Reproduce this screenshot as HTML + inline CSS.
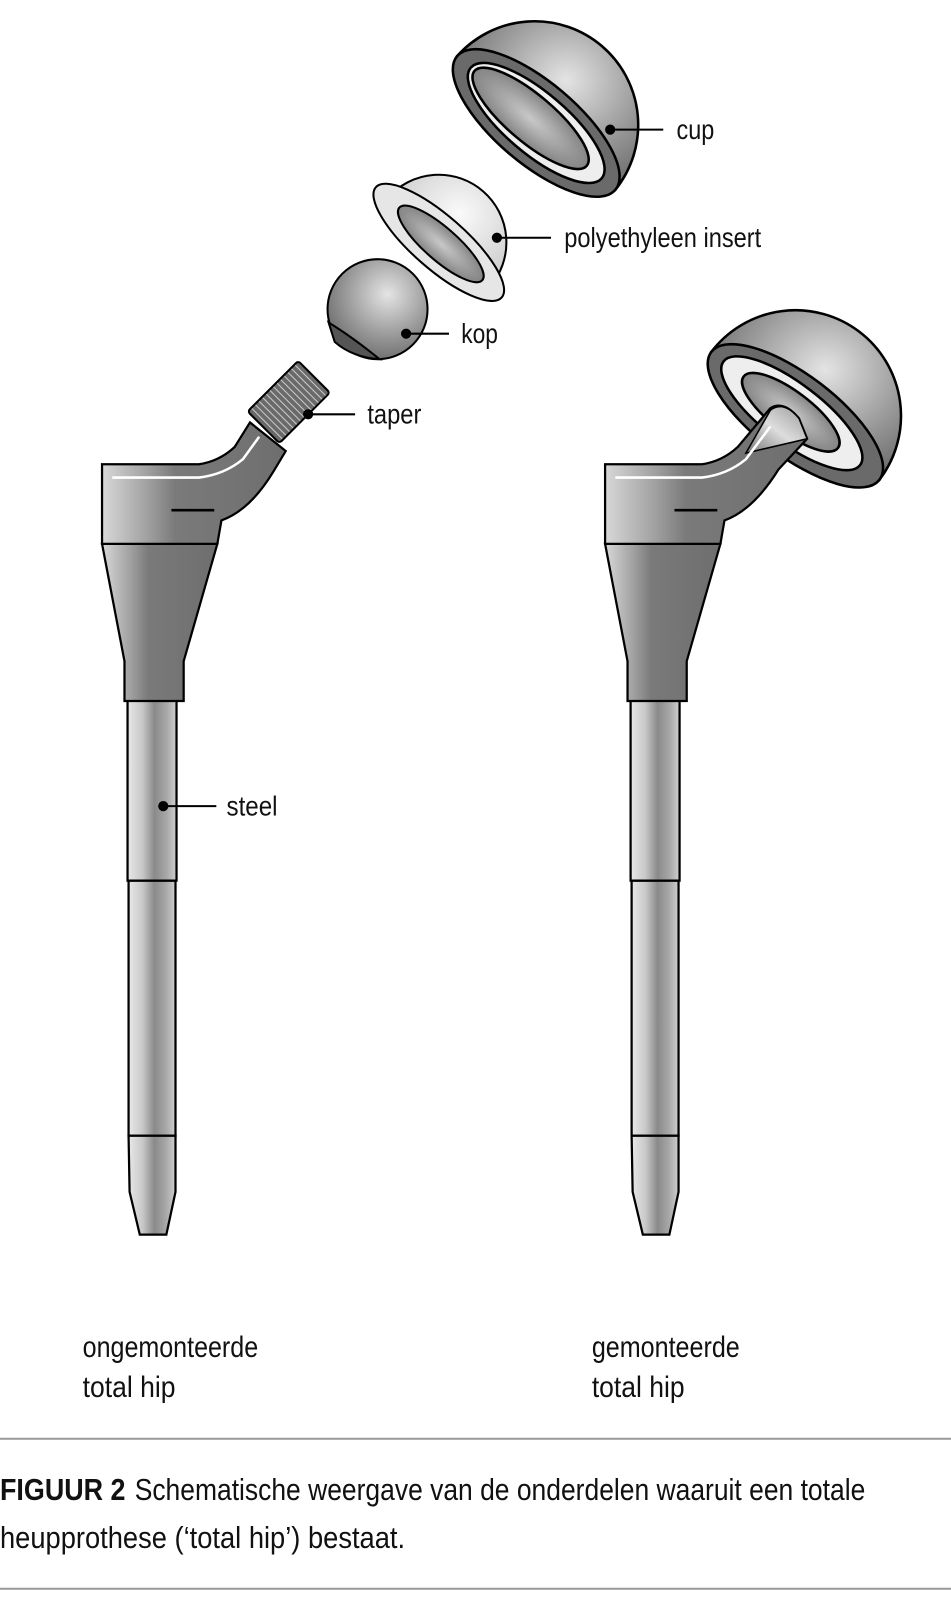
<!DOCTYPE html>
<html><head><meta charset="utf-8"><style>
html,body{margin:0;padding:0;background:#fff;}
svg{display:block;}
text{font-family:"Liberation Sans",sans-serif;fill:#111;}
</style></head><body>
<svg width="951" height="1600" viewBox="0 0 932 1568" xmlns="http://www.w3.org/2000/svg">
<defs>
<linearGradient id="met" x1="0" x2="1" y1="0" y2="0">
<stop offset="0" stop-color="#e8e8e8"/><stop offset="0.3" stop-color="#c8c8c8"/><stop offset="0.55" stop-color="#8a8a8a"/><stop offset="0.8" stop-color="#a8a8a8"/><stop offset="1" stop-color="#cfcfcf"/></linearGradient>
<linearGradient id="col" x1="0" x2="1" y1="0" y2="0">
<stop offset="0" stop-color="#d8d8d8"/><stop offset="0.25" stop-color="#a0a0a0"/><stop offset="0.4" stop-color="#7a7a7a"/><stop offset="1" stop-color="#6e6e6e"/></linearGradient>
<linearGradient id="neck" x1="0" x2="1" y1="1" y2="0">
<stop offset="0" stop-color="#777"/><stop offset="0.5" stop-color="#ddd"/><stop offset="1" stop-color="#999"/></linearGradient>
<radialGradient id="sph" cx="0.6" cy="0.35" r="0.7">
<stop offset="0" stop-color="#e4e4e4"/><stop offset="0.6" stop-color="#999"/><stop offset="1" stop-color="#6a6a6a"/></radialGradient>
<radialGradient id="sphL" cx="0.6" cy="0.35" r="0.7">
<stop offset="0" stop-color="#fafafa"/><stop offset="1" stop-color="#c8c8c8"/></radialGradient>
<radialGradient id="inner" cx="0.5" cy="0.5" r="0.6">
<stop offset="0" stop-color="#c8c8c8"/><stop offset="1" stop-color="#777"/></radialGradient>
</defs>

<!-- CUP -->
<g stroke="#000" stroke-width="2.5">
<path d="M448,55 A101.5,101.5 0 0 1 603,186 Z" fill="url(#sph)"/>
<ellipse cx="525.5" cy="120.5" rx="101.5" ry="40" transform="rotate(40.2 525.5 120.5)" fill="#6a6a6a"/>
<ellipse cx="525.5" cy="120.5" rx="84" ry="30" transform="rotate(40.2 525.5 120.5)" fill="#eee"/>
<ellipse cx="520" cy="116" rx="72" ry="23" transform="rotate(40.2 520 116)" fill="url(#inner)"/>
</g>
<!-- INSERT -->
<g stroke="#000" stroke-width="2">
<path d="M380,194 A66,66 0 0 1 480,281 Z" fill="url(#sphL)"/>
<ellipse cx="430" cy="237.5" rx="82" ry="26" transform="rotate(41.2 430 237.5)" fill="#e6e6e6"/>
<ellipse cx="432" cy="239" rx="54" ry="16" transform="rotate(41.2 432 239)" fill="url(#inner)"/>
</g>
<!-- KOP -->
<g stroke="#000" stroke-width="2">
<circle cx="370" cy="303" r="49" fill="url(#sph)"/>
<path d="M322,316 Q345,330 372,352 Q345,350 328,335 Z" fill="#555"/>
</g>

<!-- LEFT STEM -->
<g stroke="#000" stroke-width="2.2">
<path d="M126,863 L172,863 L172,1113 L126,1113 Z" fill="url(#met)"/>
<path d="M126,1113 L172,1113 L172,1168 L163,1210 L137,1210 L127,1168 Z" fill="url(#met)"/>
<path d="M125,680 L173,680 L173,863 L125,863 Z" fill="url(#met)"/>
<path d="M100,533 L213,533 L180,648 L180,687 L122,687 L122,648 Z" fill="url(#col)"/>
<path d="M100,455 L195,455 Q215,452 230,438 L245,414 L280,442 L268,462 Q245,500 217,510 L213,533 L100,533 Z" fill="url(#col)"/>
<path d="M110,468 L195,468 Q220,465 238,450 L254,428" fill="none" stroke="#fff" stroke-width="2.5"/>
<path d="M168,500 L210,500" stroke="#000" stroke-width="2.5"/>
</g>
<!-- taper -->
<g transform="translate(-9,9) rotate(45 292 385)" stroke="#000" stroke-width="2">
<rect x="270" y="350" width="44" height="70" rx="3" fill="#6a6a6a"/>
<g stroke="#ccc" stroke-width="1">
<line x1="271" y1="355" x2="313" y2="355"/><line x1="271" y1="360" x2="313" y2="360"/><line x1="271" y1="365" x2="313" y2="365"/><line x1="271" y1="370" x2="313" y2="370"/><line x1="271" y1="375" x2="313" y2="375"/><line x1="271" y1="380" x2="313" y2="380"/><line x1="271" y1="385" x2="313" y2="385"/><line x1="271" y1="390" x2="313" y2="390"/><line x1="271" y1="395" x2="313" y2="395"/><line x1="271" y1="400" x2="313" y2="400"/><line x1="271" y1="405" x2="313" y2="405"/><line x1="271" y1="410" x2="313" y2="410"/><line x1="271" y1="415" x2="313" y2="415"/>
</g>
</g>

<!-- RIGHT STEM -->
<g transform="translate(493,0)" stroke="#000" stroke-width="2.2">
<path d="M126,863 L172,863 L172,1113 L126,1113 Z" fill="url(#met)"/>
<path d="M126,1113 L172,1113 L172,1168 L163,1210 L137,1210 L127,1168 Z" fill="url(#met)"/>
<path d="M125,680 L173,680 L173,863 L125,863 Z" fill="url(#met)"/>
<path d="M100,533 L213,533 L180,648 L180,687 L122,687 L122,648 Z" fill="url(#col)"/>
</g>
<!-- right cup -->
<g stroke="#000" stroke-width="2.5">
<path d="M697,345 A103.5,103.5 0 0 1 862,470 Z" fill="url(#sph)"/>
<ellipse cx="779.5" cy="407.5" rx="103.5" ry="40" transform="rotate(37.2 779.5 407.5)" fill="#6a6a6a"/>
<ellipse cx="776" cy="405" rx="84" ry="29" transform="rotate(37.2 776 405)" fill="#eee"/>
<ellipse cx="775" cy="404" rx="58" ry="20" transform="rotate(37.2 775 404)" fill="url(#inner)"/>
</g>
<g transform="translate(493,0)" stroke="#000" stroke-width="2.2">
<path d="M100,455 L195,455 Q215,452 230,438 L262,400 Q275,392 290,410 L298,430 L270,460 Q245,500 217,510 L213,533 L100,533 Z" fill="url(#col)"/>
<path d="M238,444 L262,402 Q275,392 290,410 L298,430 Z" fill="url(#neck)" stroke-width="1.5"/>
<path d="M110,468 L195,468 Q220,465 238,450 L262,418" fill="none" stroke="#fff" stroke-width="2.5"/>
<path d="M168,500 L210,500" stroke="#000" stroke-width="2.5"/>
</g>

<!-- label leaders -->
<g stroke="#000" stroke-width="2">
<line x1="598" y1="127" x2="650" y2="127"/><circle cx="598" cy="127" r="4"/>
<line x1="487" y1="233" x2="540" y2="233"/><circle cx="487" cy="233" r="4"/>
<line x1="398" y1="327" x2="440" y2="327"/><circle cx="398" cy="327" r="4"/>
<line x1="302" y1="406" x2="348" y2="406"/><circle cx="302" cy="406" r="4"/>
<line x1="160" y1="790" x2="212" y2="790"/><circle cx="160" cy="790" r="4"/>
</g>
<g font-size="27">
<text x="663" y="136" textLength="37" lengthAdjust="spacingAndGlyphs">cup</text>
<text x="553" y="242" textLength="193" lengthAdjust="spacingAndGlyphs">polyethyleen insert</text>
<text x="452" y="336" textLength="36" lengthAdjust="spacingAndGlyphs">kop</text>
<text x="360" y="415" textLength="53" lengthAdjust="spacingAndGlyphs">taper</text>
<text x="222" y="799" textLength="50" lengthAdjust="spacingAndGlyphs">steel</text>
</g>
<g font-size="29">
<text x="81" y="1330" textLength="172" lengthAdjust="spacingAndGlyphs">ongemonteerde</text>
<text x="81" y="1369" textLength="91" lengthAdjust="spacingAndGlyphs">total hip</text>
<text x="580" y="1330" textLength="145" lengthAdjust="spacingAndGlyphs">gemonteerde</text>
<text x="580" y="1369" textLength="91" lengthAdjust="spacingAndGlyphs">total hip</text>
</g>
<line x1="0" y1="1410" x2="932" y2="1410" stroke="#999" stroke-width="2"/>
<g font-size="30">
<text x="0" y="1470" font-weight="bold" textLength="123" lengthAdjust="spacingAndGlyphs">FIGUUR 2</text>
<text x="132" y="1470" textLength="716" lengthAdjust="spacingAndGlyphs">Schematische weergave van de onderdelen waaruit een totale</text>
<text x="0" y="1517" textLength="397" lengthAdjust="spacingAndGlyphs">heupprothese (‘total hip’) bestaat.</text>
</g>
<line x1="0" y1="1557" x2="932" y2="1557" stroke="#999" stroke-width="2"/>
</svg>
</body></html>
